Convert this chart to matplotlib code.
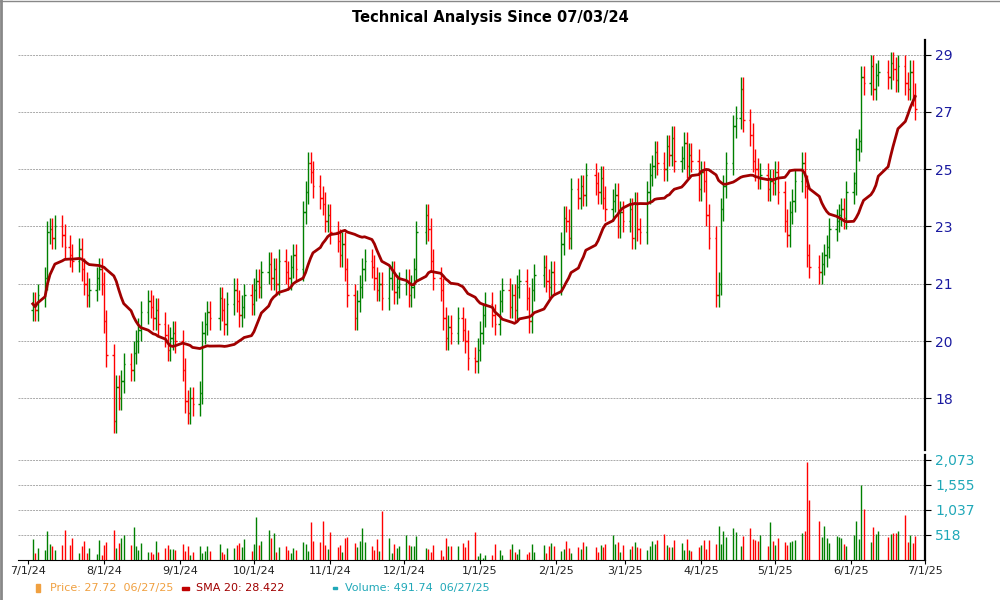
import matplotlib
matplotlib.use("Agg")
import matplotlib.pyplot as plt
import numpy as np
import pandas as pd

# closes per month (chart units)
months = ["2024-07", "2024-08", "2024-09", "2024-10", "2024-11", "2024-12",
          "2025-01", "2025-02", "2025-03", "2025-04", "2025-05", "2025-06"]
closes_by_month = [
    [20.3, 20.1, 20.6, 21.2, 22.8, 22.9, 22.6, 23.0, 22.7, 22.3, 22.0, 21.8, 22.2, 21.5, 21.0, 20.6, 20.8, 21.2, 21.5, 21.0],
    [19.7, 18.5, 16.2, 17.4, 17.0, 17.6, 18.2, 18.0, 18.6, 19.0, 19.4, 20.0, 20.4, 20.2, 19.8, 20.1, 19.6, 19.2, 18.7, 19.1, 19.3, 19.0],
    [18.0, 16.9, 16.5, 17.0, 16.8, 17.2, 19.3, 19.6, 20.0, 19.8, 20.5, 20.1, 19.6, 20.3, 20.8, 20.4, 19.9, 20.2, 20.6, 20.3],
    [20.8, 21.1, 20.9, 21.4, 21.7, 21.2, 21.5, 21.0, 21.8, 21.4, 21.2, 21.6, 22.0, 21.5, 23.5, 24.2, 25.2, 24.9, 24.4, 24.0, 23.8, 23.2, 23.4],
    [22.8, 22.5, 22.0, 22.4, 21.5, 20.6, 19.8, 20.4, 20.9, 21.5, 21.8, 21.6, 21.2, 20.8, 21.0, 20.5, 21.2, 21.4, 20.7, 20.9, 21.0],
    [21.1, 20.6, 20.9, 21.5, 22.8, 23.4, 22.9, 21.8, 21.2, 20.8, 19.8, 19.1, 19.5, 19.3, 19.8, 19.4, 19.0, 18.4, 18.3, 18.7],
    [19.3, 19.9, 20.3, 19.9, 19.6, 20.4, 20.8, 20.2, 20.6, 20.1, 20.9, 21.1, 20.5, 19.7, 20.8, 21.3, 21.6, 21.1, 20.9, 21.4, 21.0],
    [22.4, 23.3, 23.2, 22.6, 24.3, 24.0, 24.4, 24.1, 24.8, 24.5, 24.2, 24.7, 24.0, 23.6, 23.9, 24.1, 23.0, 23.5, 23.2],
    [23.6, 22.6, 23.8, 22.9, 22.8, 24.2, 24.8, 25.1, 25.6, 25.2, 25.0, 25.8, 25.5, 26.1, 25.3, 25.4, 25.9, 25.1, 25.5, 25.3, 24.3],
    [24.9, 24.6, 23.4, 22.6, 20.6, 21.0, 23.6, 24.4, 25.2, 26.5, 26.8, 27.8, 26.7, 26.2, 25.3, 25.0, 24.7, 24.8, 24.3, 24.6, 24.5],
    [24.9, 24.2, 23.2, 22.7, 23.5, 23.9, 24.6, 25.2, 24.4, 22.0, 21.6, 21.4, 21.7, 22.0, 22.3, 22.9, 23.2, 23.4, 23.6, 23.3, 24.2],
    [24.5, 25.7, 26.0, 28.2, 28.0, 28.6, 27.8, 28.3, 28.4, 28.2, 28.7, 28.5, 28.1, 28.6, 28.0, 27.8, 28.4, 27.6, 27.1],
]
volume_by_month = [
    [430, 150, 250, 200, 590, 320, 280, 200, 300, 610, 300, 450, 150, 280, 380, 150, 240, 130, 420, 100],
    [300, 360, 610, 250, 350, 460, 520, 300, 680, 280, 200, 340, 160, 170, 130, 380, 160, 250, 300, 220, 230, 200],
    [330, 180, 280, 100, 170, 280, 150, 180, 280, 190, 330, 160, 130, 240, 250, 300, 350, 260, 430, 190],
    [320, 880, 300, 400, 610, 450, 560, 170, 260, 290, 210, 150, 240, 200, 360, 320, 180, 780, 400, 360, 810, 300, 230],
    [570, 260, 310, 160, 460, 480, 350, 270, 380, 650, 370, 280, 200, 440, 180, 1020, 450, 140, 320, 250, 280],
    [520, 300, 280, 280, 500, 250, 220, 160, 300, 200, 80, 460, 290, 280, 290, 340, 260, 420, 580, 80],
    [150, 40, 110, 100, 330, 200, 100, 230, 320, 170, 130, 230, 120, 170, 330, 170, 310, 150, 280, 350, 280],
    [180, 230, 400, 250, 150, 260, 230, 370, 280, 260, 160, 300, 270, 320, 510, 330, 370, 160, 300],
    [220, 290, 360, 270, 240, 200, 290, 380, 330, 410, 540, 310, 260, 260, 420, 350, 200, 430, 200, 190, 260],
    [310, 420, 220, 420, 330, 700, 320, 600, 480, 650, 580, 280, 490, 650, 440, 410, 380, 520, 280, 780, 400],
    [310, 450, 360, 310, 370, 380, 420, 560, 600, 2030, 1250, 800, 470, 710, 460, 340, 500, 470, 450, 320, 280],
    [510, 800, 440, 1550, 1050, 360, 680, 540, 600, 480, 530, 560, 550, 600, 920, 370, 520, 340, 490],
]

# price chart units -> printed tick labels
price_ticks = [29, 27, 25, 23, 21, 19, 17]
price_labels = ["29", "27", "25", "23", "21", "20", "18"]
volume_ticks = [518, 1037, 1555, 2073]
date_ticks = ["2024-07-01", "2024-08-01", "2024-09-01", "2024-10-01", "2024-11-01", "2024-12-01",
              "2025-01-01", "2025-02-01", "2025-03-01", "2025-04-01", "2025-05-01", "2025-06-01", "2025-07-01"]
date_tick_labels = ["7/1/24", "8/1/24", "9/1/24", "10/1/24", "11/1/24", "12/1/24",
                    "1/1/25", "2/1/25", "3/1/25", "4/1/25", "5/1/25", "6/1/25", "7/1/25"]

dates, closes, volumes = [], [], []
for month, cl, vo in zip(months, closes_by_month, volume_by_month):
    start = pd.Timestamp(month + "-01")
    if month == "2024-07":
        start = pd.Timestamp("2024-07-03")
    end = pd.Timestamp(month + "-01") + pd.offsets.MonthEnd(0)
    if month == "2025-06":
        end = pd.Timestamp("2025-06-27")
    days = pd.bdate_range(start, end)
    idx = np.linspace(0, len(days) - 1, len(cl)).round().astype(int)
    dates.extend(days[idx])
    closes.extend(cl)
    volumes.extend(vo)

dates = pd.DatetimeIndex(dates)
closes = np.array(closes)
volumes = np.array(volumes)
opens = np.r_[closes[0] - 0.2, closes[:-1]]
highs = np.maximum(opens, closes) + 0.4
lows = np.minimum(opens, closes) - 0.4
sma = pd.Series(closes).rolling(20, min_periods=1).mean().to_numpy()
colors = np.where(closes >= opens, "#008000", "#ff0000")

fig = plt.figure(figsize=(10, 6), dpi=100)
ax = fig.add_axes([0.018, 0.25, 0.907, 0.683])
vax = fig.add_axes([0.018, 0.067, 0.907, 0.175], sharex=ax)

tick_w = pd.Timedelta(hours=14)
ax.vlines(dates, lows, highs, colors=colors, lw=1)
ax.hlines(opens, dates - tick_w, dates, colors=colors, lw=1)
ax.hlines(closes, dates, dates + tick_w, colors=colors, lw=1)
ax.plot(dates, sma, color="#a00000", lw=2)

ax.set_ylim(15.2, 29.5)
ax.set_yticks(price_ticks)
ax.set_yticklabels(price_labels)
ax.grid(axis="y", color="#aaaaaa", ls=(0, (2, 1)), lw=0.7)
ax.yaxis.tick_right()
ax.tick_params(axis="y", colors="#000000", labelcolor="#1a1aa0", labelsize=10, length=4)
ax.tick_params(axis="x", bottom=False, labelbottom=False)

vax.vlines(dates, 0, volumes, colors=colors, lw=1)
vax.set_ylim(0, 2180)
vax.set_yticks(volume_ticks)
vax.set_yticklabels([f"{v:,}" for v in volume_ticks])
vax.grid(axis="y", color="#aaaaaa", ls=(0, (2, 1)), lw=0.7)
vax.yaxis.tick_right()
vax.tick_params(axis="y", labelcolor="#20a8b8", labelsize=10, length=4)
vax.set_xticks(pd.to_datetime(date_ticks))
vax.set_xticklabels(date_tick_labels, fontsize=8, color="#222222")
vax.tick_params(axis="x", pad=1.5, length=3)
vax.set_xlim(pd.Timestamp("2024-06-27"), pd.Timestamp("2025-07-01"))

for a in (ax, vax):
    for s in ("top", "left"):
        a.spines[s].set_visible(False)
    a.spines["right"].set_linewidth(1.6)
ax.spines["bottom"].set_visible(False)

fig.text(0.49, 0.983, "Technical Analysis Since 07/03/24", ha="center", va="top",
         fontsize=10.5, fontweight="bold")
ly = 0.02
fig.add_artist(plt.Rectangle((0.036, ly - 0.007), 0.004, 0.013, color="#f0a040"))
fig.text(0.05, ly, "Price: 27.72  06/27/25", color="#f0a040", fontsize=8, va="center")
fig.add_artist(plt.Rectangle((0.182, ly - 0.003), 0.007, 0.005, color="#c00000"))
fig.text(0.196, ly, "SMA 20: 28.422", color="#a00000", fontsize=8, va="center")
fig.add_artist(plt.Rectangle((0.333, ly - 0.001), 0.004, 0.002, color="#20a8b8"))
fig.text(0.345, ly, "Volume: 491.74  06/27/25", color="#20a8b8", fontsize=8, va="center")
fig.add_artist(plt.Line2D([0.001, 0.001], [0, 1], color="#888888", lw=2))
fig.add_artist(plt.Line2D([0, 1], [0.999, 0.999], color="#888888", lw=1))

fig.savefig("out.png", dpi=100)
